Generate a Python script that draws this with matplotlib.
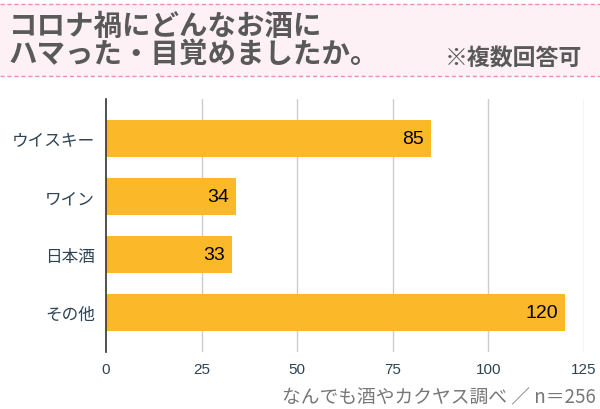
import matplotlib.pyplot as plt
from matplotlib.patches import Rectangle
from matplotlib.lines import Line2D

plt.rcParams['font.family'] = ['Noto Sans CJK JP', 'DejaVu Sans']

categories = ["ウイスキー", "ワイン", "日本酒", "その他"]
values = [85, 34, 33, 120]
xticks = [0, 25, 50, 75, 100, 125]

title = "コロナ禍にどんなお酒に\nハマった・目覚めましたか。"
note = "※複数回答可"
source = "なんでも酒やカクヤス調べ ／ n＝256"

bar_color = "#FBB829"
label_color = "#2E4353"
num_font = ['Liberation Sans', 'DejaVu Sans']

fig = plt.figure(figsize=(6, 4.1), dpi=100)

# header band
fig.patches.append(Rectangle((0, 1 - 77 / 410), 1, 72 / 410, transform=fig.transFigure,
                             facecolor="#FDF1F5", edgecolor="none", zorder=0))
for yy in [1 - 5 / 410, 1 - 77 / 410]:
    fig.lines.append(Line2D([0, 1], [yy, yy], transform=fig.transFigure,
                            color="#F08CAE", lw=1, ls=(0, (3, 2))))
fig.text(9 / 600, 1 - 41 / 410, title, fontsize=20.5, fontweight="bold", color="#595959",
         va="center", ha="left", linespacing=1.0)
fig.text(582 / 600, 1 - 59 / 410, note, fontsize=16.5, fontweight="bold", color="#595959",
         va="center", ha="right")

ax = fig.add_axes([106 / 600, 1 - 353 / 410, 478 / 600, 253 / 410])
ypos = range(len(categories))
bars = ax.barh(ypos, values, height=0.64, color=bar_color, zorder=2)
for b, v in zip(bars, values):
    ax.text(v - 1.8, b.get_y() + b.get_height() / 2, str(v), ha="right", va="center",
            fontsize=14, color="black", family=num_font, zorder=3)

ax.set_xlim(0, 125)
ax.set_ylim(3.68, -0.68)
ax.set_xticks(xticks)
ax.set_xticklabels([str(t) for t in xticks], family=num_font, fontsize=11)
ax.set_yticks(list(ypos))
ax.set_yticklabels(categories, fontsize=12)
ax.tick_params(axis="both", length=0, colors=label_color)
ax.tick_params(axis="x", pad=7)
ax.tick_params(axis="y", pad=8)
for v in xticks[1:]:
    ax.axvline(v, color="#CCCCCC", lw=1, zorder=1)
for s in ["top", "right", "bottom"]:
    ax.spines[s].set_visible(False)
ax.spines["left"].set_color("#333333")
ax.spines["left"].set_linewidth(1.2)
ax.spines["left"].set_zorder(4)

fig.text(596 / 600, 1 - 398 / 410, source, fontsize=13.5, color="#777777", ha="right", va="center")

fig.savefig("out.png", dpi=100)
